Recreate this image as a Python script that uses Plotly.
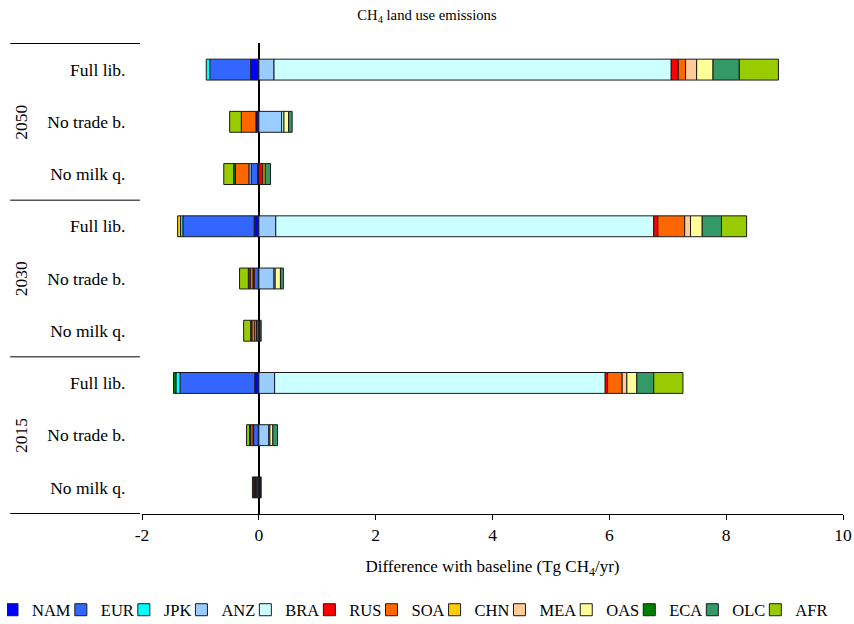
import plotly.graph_objects as go

# ---- data (rows listed top to bottom) ----
years = ["2050", "2030", "2015"]
scenarios = ["Full lib.", "No trade b.", "No milk q."]
regions = ["NAM", "EUR", "JPK", "ANZ", "BRA", "RUS", "SOA", "CHN", "MEA", "OAS", "ECA", "OLC", "AFR"]

# values in Tg CH4/yr, order: 2050 FL, NT, NM, 2030 FL, NT, NM, 2015 FL, NT, NM
NAM = [-0.14, -0.05, -0.02, -0.08, -0.01, -0.01, -0.07, -0.01, -0.015]
EUR = [-0.70, 0.00, -0.11, -1.22, -0.07, -0.03, -1.28, -0.08, -0.02]
JPK = [-0.06, 0.00, 0.00, -0.04, 0.00, 0.00, -0.07, 0.00, -0.01]
ANZ = [0.26, 0.39, -0.04, 0.29, 0.26, -0.03, 0.27, 0.17, -0.015]
BRA = [6.80, 0.04, 0.00, 6.47, 0.02, 0.00, 5.66, 0.02, 0.01]
RUS = [0.12, 0.00, 0.07, 0.07, -0.02, 0.02, 0.04, -0.01, -0.01]
SOA = [0.125, -0.25, -0.23, 0.46, -0.05, -0.05, 0.25, -0.04, -0.015]
CHN = [0.00, 0.00, 0.04, -0.05, 0.00, 0.00, 0.00, 0.00, 0.00]
MEA = [0.19, 0.00, 0.00, 0.10, 0.00, 0.00, 0.08, 0.00, -0.01]
OAS = [0.28, 0.08, 0.00, 0.20, 0.09, 0.00, 0.17, 0.05, 0.01]
ECA = [0.00, 0.00, -0.03, 0.00, -0.03, -0.02, -0.04, -0.02, 0.01]
OLC = [0.45, 0.06, 0.09, 0.33, 0.05, 0.02, 0.29, 0.08, 0.01]
AFR = [0.67, -0.20, -0.17, 0.43, -0.15, -0.12, 0.50, -0.05, -0.015]

series = [NAM, EUR, JPK, ANZ, BRA, RUS, SOA, CHN, MEA, OAS, ECA, OLC, AFR]
colors = ["#0000FF", "#3366FF", "#00FFFF", "#99CCFF", "#CCFFFF", "#FF0000", "#FF6600",
          "#FFCC00", "#FFCC99", "#FFFF99", "#008000", "#339966", "#99CC00"]

x_tickvals = [-2, 0, 2, 4, 6, 8, 10]
x_ticktext = ["-2", "0", "2", "4", "6", "8", "10"]

FONT = "Liberation Serif, Times New Roman, serif"
FS = 17.5

cats = [f"{y} {s}" for y in years for s in scenarios]
ticktext = [s for y in years for s in scenarios]

fig = go.Figure()
for name, vals, col in zip(regions, series, colors):
    fig.add_trace(go.Bar(
        y=cats, x=[v if v != 0 else None for v in vals], name=name, orientation="h",
        marker=dict(color=col, line=dict(color="#1a1a1a", width=1)),
    ))

# group separators and year labels on the category axis
shapes = []
for k in range(len(years) + 1):
    yy = k * len(scenarios) - 0.5
    shapes.append(dict(type="line", xref="paper", yref="y", x0=-0.188, x1=-0.003,
                       y0=yy, y1=yy, line=dict(color="black", width=1)))
annotations = []
for k, yr in enumerate(years):
    annotations.append(dict(text=yr, xref="paper", yref="y", x=-0.19,
                            y=k * len(scenarios) + 1, textangle=-90, showarrow=False,
                            font=dict(family=FONT, size=FS, color="black")))

fig.update_layout(
    width=854, height=624,
    barmode="relative", bargap=0.6,
    paper_bgcolor="white", plot_bgcolor="white",
    margin=dict(l=142, r=11, t=43, b=110, autoexpand=False),
    font=dict(family=FONT, size=FS, color="black"),
    title=dict(text="CH<sub>4</sub> land use emissions", x=0.5, xref="container",
               y=1 - 15 / 624, yref="container", yanchor="middle", xanchor="center",
               font=dict(family=FONT, size=14.7, color="black")),
    xaxis=dict(range=[-2, 10], tickvals=x_tickvals, ticktext=x_ticktext, showgrid=False,
               zeroline=True, automargin=False,
               zerolinecolor="black", zerolinewidth=1.5, showline=True, linecolor="black",
               linewidth=1, ticks="outside", ticklen=5, tickcolor="black",
               tickfont=dict(family=FONT, size=FS),
               title=dict(text="Difference with baseline (Tg CH<sub>4</sub>/yr)",
                          font=dict(family=FONT, size=17), standoff=16)),
    yaxis=dict(categoryorder="array", categoryarray=cats, autorange="reversed",
               tickvals=cats, ticktext=ticktext, showgrid=False, showline=False,
               automargin=False,
               ticks="outside", ticklen=12, tickcolor="rgba(0,0,0,0)",
               tickfont=dict(family=FONT, size=FS)),
    legend=dict(orientation="h", xref="paper", yref="paper", x=(7 - 142) / 701,
                y=(514 - 610) / 471, xanchor="left", yanchor="middle",
                font=dict(family=FONT, size=16.5),
                itemwidth=30, traceorder="normal", indentation=-15),
    shapes=shapes, annotations=annotations,
)

fig.write_html("out.html", config={"displayModeBar": False},
               post_script="document.body.style.margin='0';")
